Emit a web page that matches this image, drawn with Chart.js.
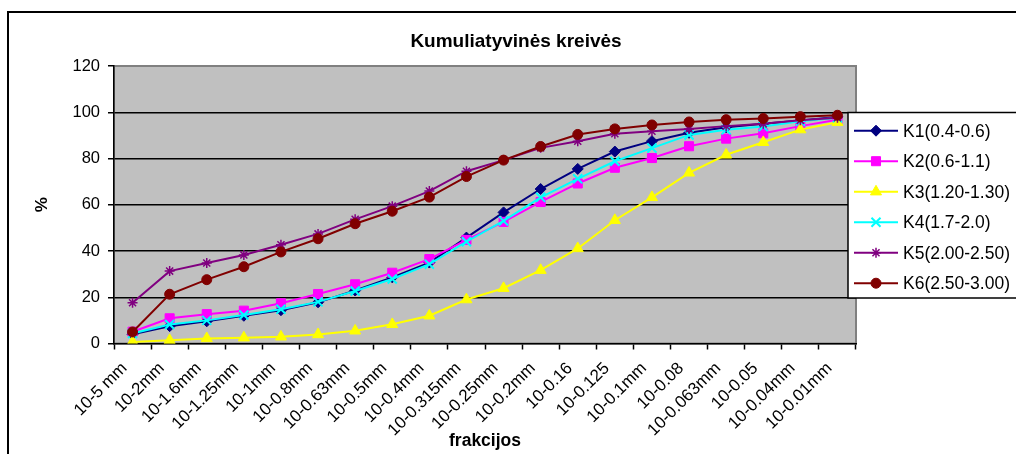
<!DOCTYPE html>
<html>
<head>
<meta charset="utf-8">
<script src="https://cdn.jsdelivr.net/npm/chart.js@4/dist/chart.umd.min.js"></script>
<style>
  html, body { margin: 0; padding: 0; background: #fff; }
  #wrap { position: relative; width: 1016px; height: 454px; overflow: hidden; }
  canvas { display: block; }
</style>
</head>
<body>
<div id="wrap"><canvas id="c" width="1016" height="454"></canvas></div>
<script>
// Sieve fractions (x axis)
const fractions = ['10-5 mm', '10-2mm', '10-1.6mm', '10-1.25mm', '10-1mm', '10-0.8mm', '10-0.63mm',
  '10-0.5mm', '10-0.4mm', '10-0.315mm', '10-0.25mm', '10-0.2mm', '10-0.16', '10-0.125',
  '10-0.1mm', '10-0.08', '10-0.063mm', '10-0.05', '10-0.04mm', '10-0.01mm'];

// Series names
const seriesNames = ['K1(0.4-0.6)', 'K2(0.6-1.1)', 'K3(1.20-1.30)', 'K4(1.7-2.0)', 'K5(2.00-2.50)', 'K6(2.50-3.00)'];

// Cumulative passing, %
const k1 = [4.0, 7.5, 9.6, 12.0, 14.4, 17.8, 22.9, 28.6, 35.0, 45.8, 56.7, 66.8, 75.5, 83.0, 87.5, 91.1, 93.5, 95.0, 96.4, 98.0];
const k2 = [5.1, 10.9, 12.7, 14.2, 17.4, 21.4, 25.6, 30.6, 36.5, 44.8, 52.6, 61.2, 69.2, 76.0, 80.2, 85.3, 88.6, 90.9, 94.0, 96.8];
const k3 = [0.7, 1.4, 2.2, 2.5, 2.9, 3.9, 5.5, 8.3, 12.0, 19.0, 23.9, 31.7, 41.1, 53.3, 63.2, 73.8, 81.6, 87.0, 92.5, 95.7];
const k4 = [4.3, 8.2, 10.0, 12.3, 14.8, 18.0, 22.7, 27.9, 34.3, 44.0, 53.0, 63.2, 71.2, 78.8, 84.5, 90.2, 92.4, 93.8, 96.1, 97.6];
const k5 = [17.6, 31.3, 34.8, 38.3, 42.7, 47.4, 53.7, 59.4, 65.9, 74.5, 79.3, 84.6, 87.5, 90.7, 91.8, 92.8, 94.0, 95.0, 96.5, 97.6];
const k6 = [5.0, 21.3, 27.6, 33.2, 39.6, 45.3, 51.8, 57.2, 63.3, 72.2, 79.3, 85.2, 90.4, 92.8, 94.5, 95.8, 96.8, 97.3, 98.1, 98.7];

// Y axis ticks
const yTicks = [0, 20, 40, 60, 80, 100, 120];

const chartTitle = 'Kumuliatyvinės kreivės';
const xTitle = 'frakcijos';
const yTitle = '%';

const FONT = '"Liberation Sans", Arial, Helvetica, sans-serif';

const styles = [
  { color: '#000080', pointStyle: 'rectRot', radius: 5.5, bw: 1 },
  { color: '#ff00ff', pointStyle: 'rect', radius: 6.4, bw: 1 },
  { color: '#ffff00', pointStyle: 'triangle', radius: 6.4, bw: 1 },
  { color: '#00ffff', pointStyle: 'crossRot', radius: 6.4, bw: 2 },
  { color: '#800080', pointStyle: 'star', radius: 5, bw: 1.5 },
  { color: '#800000', pointStyle: 'circle', radius: 5, bw: 1 }
];
const values = [k1, k2, k3, k4, k5, k6];

const datasets = seriesNames.map((name, i) => ({
  label: name,
  data: values[i],
  borderColor: styles[i].color,
  backgroundColor: styles[i].color,
  borderWidth: 2,
  pointStyle: styles[i].pointStyle,
  pointRadius: styles[i].radius,
  pointBorderWidth: styles[i].bw,
  pointBorderColor: styles[i].color,
  pointBackgroundColor: styles[i].color,
  tension: 0,
  order: seriesNames.length - i   // later series drawn on top
}));

// Frame, plot background and title
const framePlugin = {
  id: 'frame',
  beforeDraw(chart) {
    const { ctx, chartArea: a } = chart;
    ctx.save();
    ctx.fillStyle = '#ffffff';
    ctx.fillRect(0, 0, chart.width, chart.height);
    ctx.strokeStyle = '#000';
    ctx.lineWidth = 2;
    ctx.strokeRect(8, 12, chart.width + 20, chart.height + 40);
    ctx.fillStyle = '#c0c0c0';
    ctx.fillRect(a.left, a.top, a.right - a.left, a.bottom - a.top);
    ctx.strokeStyle = '#808080';
    ctx.lineWidth = 2;
    ctx.strokeRect(a.left, a.top, a.right - a.left, a.bottom - a.top);
    ctx.fillStyle = '#000';
    ctx.font = 'bold 19px ' + FONT;
    ctx.textAlign = 'center';
    ctx.textBaseline = 'middle';
    ctx.fillText(chartTitle, 516, 42);
    ctx.restore();
  }
};

// Legend box at the right, overlapping the plot edge
const legendPlugin = {
  id: 'boxLegend',
  afterDraw(chart) {
    const { ctx } = chart;
    const x0 = 848, y0 = 112.5, w = 200, h = 185.5;
    ctx.save();
    ctx.fillStyle = '#fff';
    ctx.fillRect(x0, y0, w, h);
    ctx.strokeStyle = '#000';
    ctx.lineWidth = 1.5;
    ctx.strokeRect(x0, y0, w, h);
    chart.data.datasets.forEach((ds, i) => {
      const y = 130.7 + i * 30.5;
      ctx.strokeStyle = ds.borderColor;
      ctx.lineWidth = 2;
      ctx.beginPath();
      ctx.moveTo(854, y);
      ctx.lineTo(898, y);
      ctx.stroke();
      ctx.fillStyle = ds.pointBackgroundColor;
      ctx.strokeStyle = ds.pointBorderColor;
      ctx.lineWidth = ds.pointBorderWidth;
      Chart.helpers.drawPoint(ctx, { pointStyle: ds.pointStyle, radius: ds.pointRadius, rotation: 0, borderWidth: ds.pointBorderWidth }, 876, y);
      ctx.fillStyle = '#000';
      ctx.font = '17.5px ' + FONT;
      ctx.textAlign = 'left';
      ctx.textBaseline = 'middle';
      ctx.fillText(ds.label, 903, y + 1);
    });
    ctx.restore();
  }
};

new Chart(document.getElementById('c'), {
  type: 'line',
  data: { labels: fractions, datasets },
  options: {
    responsive: false,
    animation: false,
    devicePixelRatio: 1,
    layout: { padding: { top: 66, right: 160, bottom: 0, left: 0 } },
    plugins: {
      legend: { display: false },
      title: { display: false },
      tooltip: { enabled: false }
    },
    scales: {
      x: {
        offset: true,
        afterFit(scale) { scale.height = 110.5; },
        border: { display: true, color: '#000', width: 1.5 },
        grid: { offset: true, drawOnChartArea: false, drawTicks: true, tickLength: 6, tickColor: '#000', tickWidth: 1.5 },
        ticks: {
          autoSkip: false, minRotation: 45, maxRotation: 45, padding: 9, labelOffset: -8,
          color: '#000', font: { family: FONT, size: 17 }
        },
        title: { display: true, text: xTitle, color: '#000', font: { family: FONT, size: 17.5, weight: 'bold' }, padding: { top: 0, bottom: 2 } }
      },
      y: {
        min: 0, max: 120,
        afterFit(scale) { scale.width = 114; },
        afterBuildTicks(scale) { scale.ticks = yTicks.map(v => ({ value: v })); },
        border: { display: true, color: '#000', width: 1.5 },
        grid: {
          color: ctx => (ctx.tick && (ctx.tick.value === 0 || ctx.tick.value === 120)) ? 'rgba(0,0,0,0)' : '#000',
          lineWidth: 1.5, drawTicks: true, tickLength: 6, tickColor: '#000', tickWidth: 1.5
        },
        ticks: { padding: 8, color: '#000', font: { family: FONT, size: 16.5 } },
        title: { display: true, text: yTitle, color: '#000', font: { family: FONT, size: 17, weight: 'bold' }, padding: { top: 32, bottom: 0 } }
      }
    }
  },
  plugins: [framePlugin, legendPlugin]
});
</script>
</body>
</html>
